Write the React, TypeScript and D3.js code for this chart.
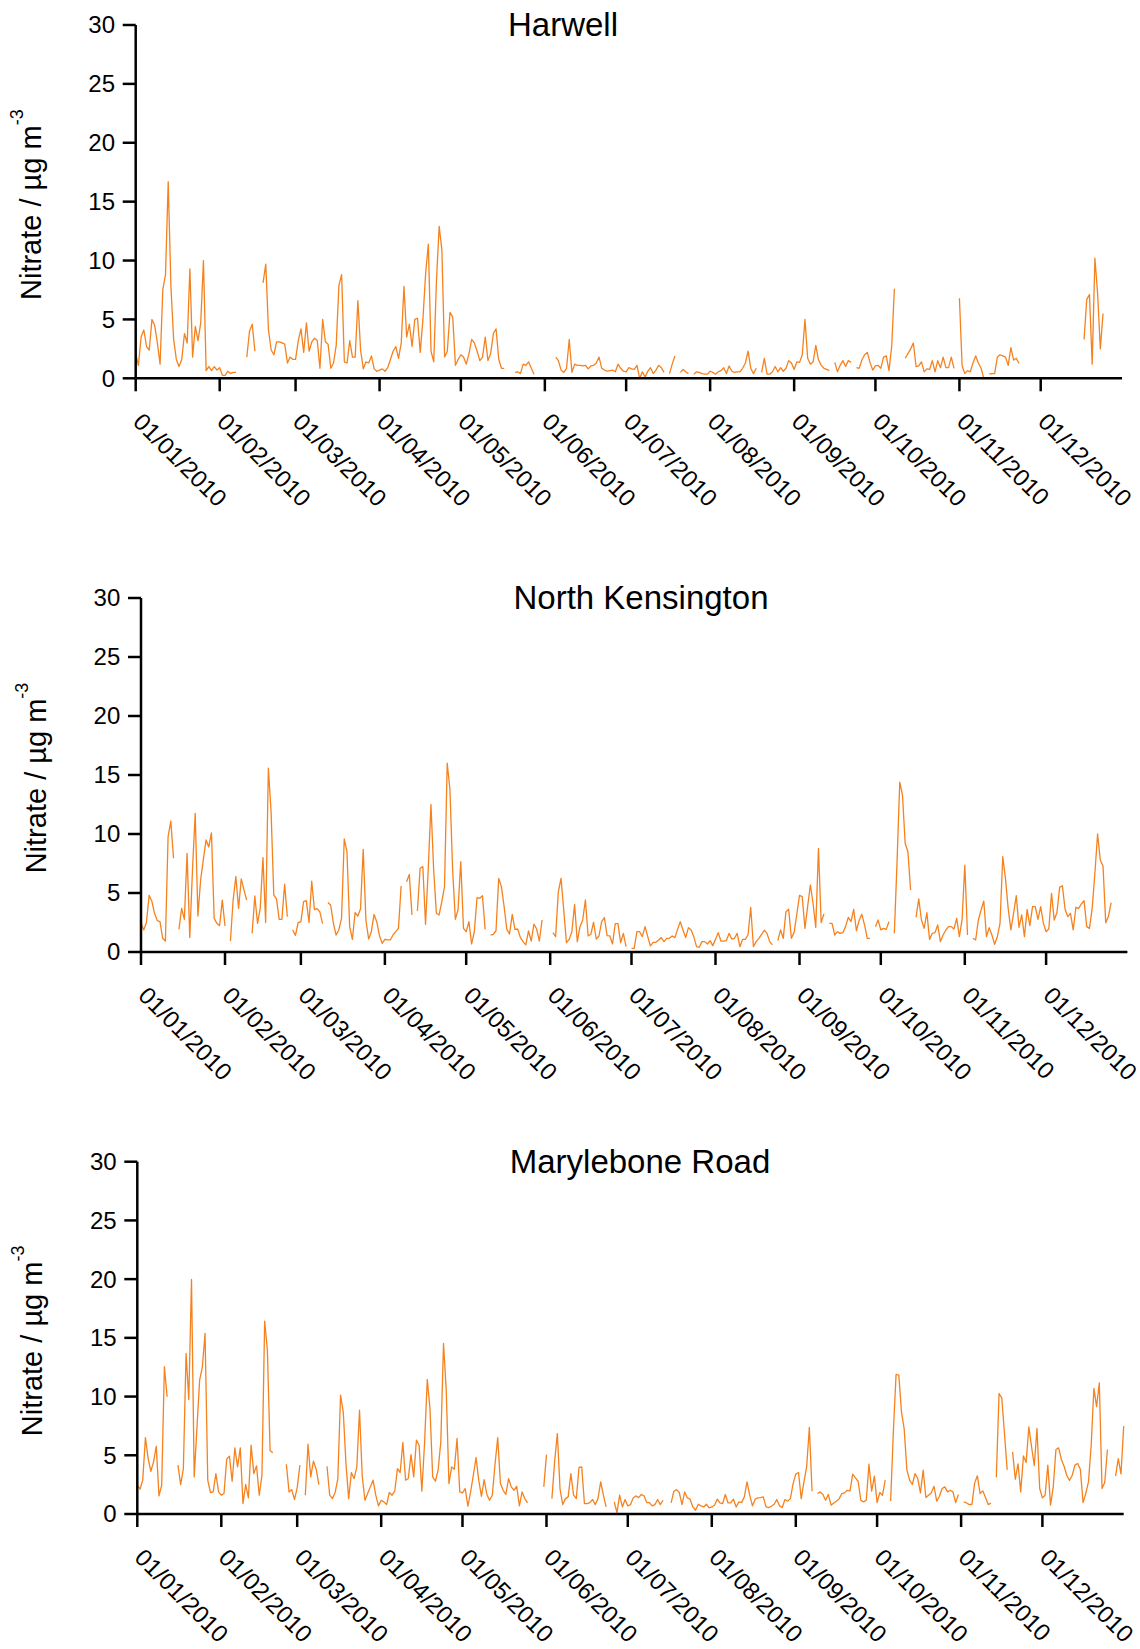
import React from "react";
import * as d3 from "d3";

// Daily nitrate concentrations (µg m-3) for 2010, one value per day from 1 Jan; null = no data.
const harwell: (number | null)[] = [
  2.1, 1.1, 3.5, 4.1, 2.7, 2.4, 5.0, 4.5, 3.0, 1.2,
  7.5, 8.8, 16.7, 7.8, 3.3, 1.6, 1.0, 1.6, 3.8, 3.0,
  9.3, 1.8, 4.4, 3.2, 4.7, 10.0, 0.65, 1.0, 0.65, 1.0,
  0.7, 0.9, 0.25, 0.25, 0.6, 0.4, 0.5, 0.5, null, null,
  null, 1.8, 4.0, 4.6, 2.3, null, null, 8.1, 9.7, 4.1,
  2.4, 2.0, 3.1, 3.1, 3.0, 2.9, 1.3, 1.8, 1.6, 1.6,
  3.2, 4.2, 2.2, 4.7, 2.3, 3.1, 3.4, 3.2, 0.85, 5.0,
  3.1, 2.9, 0.85, 1.3, 2.8, 7.9, 8.8, 1.4, 1.3, 3.2,
  1.8, 1.8, 6.6, 2.4, 0.8, 1.4, 1.3, 1.9, 0.8, 0.6,
  0.7, 0.8, 0.6, 0.9, 1.6, 2.3, 2.7, 1.7, 3.0, 7.8,
  3.5, 4.6, 2.7, 5.0, 5.1, 2.2, 5.0, 8.9, 11.4, 2.3,
  1.4, 8.3, 12.9, 10.9, 1.8, 2.3, 5.6, 5.2, 1.1, 1.6,
  2.0, 1.8, 1.2, 2.1, 3.3, 3.0, 2.3, 1.5, 1.8, 3.5,
  1.5, 2.1, 3.8, 4.2, 1.6, 0.85, 0.85, null, null, null,
  0.5, 0.55, 0.4, 1.2, 1.1, 1.4, 0.85, 0.35, null, null,
  null, null, null, null, null, 1.8, 1.5, 0.7, 0.5, 0.85,
  3.3, 0.5, 1.2, 1.1, 1.1, 1.05, 1.1, 0.8, 1.05, 1.1,
  1.3, 1.8, 0.85, 0.7, 0.6, 0.65, 0.7, 0.55, 1.2, 0.85,
  0.6, 0.55, 0.9, 0.8, 0.75, 1.1, 0.0, 0.55, 0.1, 0.6,
  0.9, 0.4, 0.7, 1.1, 0.9, 0.5, null, 0.4, 1.2, 1.9,
  null, 0.5, 0.75, 0.55, 0.4, null, 0.35, 0.55, 0.5, 0.4,
  0.35, 0.35, 0.6, 0.5, 0.35, 0.55, 0.65, 0.9, 0.4, 1.05,
  0.6, 0.5, 0.55, 0.55, 0.85, 1.3, 2.3, 0.85, 0.4, 0.85,
  null, 0.5, 1.7, 0.35, 0.35, 0.55, 1.0, 0.55, 0.9, 0.6,
  0.85, 1.5, 1.3, 0.75, 1.4, 1.35, 2.0, 5.0, 1.7, 1.2,
  1.4, 2.8, 1.55, 1.1, 0.85, 0.75, 0.65, null, 1.35, 0.55,
  1.1, 1.5, 1.0, 1.5, 1.35, null, 0.9, 0.85, 1.55, 2.0,
  2.2, 1.35, 0.7, 1.05, 1.1, 0.85, 1.8, 1.9, 0.65, 2.7,
  7.6, null, null, null, 1.7, 2.1, 2.5, 3.0, 1.0, 1.05,
  1.4, 0.55, 0.8, 0.75, 1.5, 0.55, 1.5, 0.9, 1.8, 0.9,
  0.9, 1.8, 0.85, null, 6.8, 1.05, 0.4, 0.65, 0.55, 1.3,
  1.9, 1.3, 0.85, 0.0, null, 0.35, 0.4, 0.4, 1.8, 2.0,
  1.9, 1.8, 1.1, 2.6, 1.55, 1.7, 1.25, null, null, null,
  null, null, null, null, null, null, null, null, null, null,
  null, null, null, null, null, null, null, null, null, null,
  3.3, 6.7, 7.1, 1.2, 10.2, 7.2, 2.5, 5.5, null, null,
  null, null, null, null, null,
];

const northKensington: (number | null)[] = [
  2.43, 1.87, 2.5, 4.8, 4.3, 3.28, 2.66, 2.57, 1.16, 0.93,
  9.78, 11.1, 7.94, null, 1.92, 3.7, 2.77, 8.36, 1.24, 6.95,
  11.75, 3.05, 6.1, 7.8, 9.5, 8.9, 10.1, 2.85, 2.43, 2.23,
  4.4, 2.2, null, 0.93, 4.4, 6.4, 3.7, 6.2, 5.26, 4.4,
  null, 1.58, 4.75, 2.43, 3.7, 8.0, 2.5, 15.57, 11.9, 4.83,
  4.5, 2.77, 2.77, 5.74, 3.0, null, 1.87, 1.41, 2.5, 2.55,
  4.27, 4.35, 2.5, 6.0, 3.6, 3.67, 3.4, 2.4, null, 4.2,
  3.96, 2.43, 1.44, 1.87, 2.85, 9.58, 8.5, 2.15, 1.07, 3.34,
  3.05, 3.65, 8.7, 2.7, 1.1, 1.72, 3.19, 2.57, 1.38, 0.74,
  1.07, 1.02, 1.02, 1.44, 1.72, 2.0, 5.6, null, 5.96, 6.58,
  3.14, null, 3.48, 7.1, 7.23, 2.35, 7.0, 12.5, 6.95, 3.28,
  3.14, 4.27, 5.54, 16.0, 13.8, 6.95, 2.77, 3.6, 7.66, 2.0,
  1.72, 2.57, 0.68, 1.72, 4.6, 4.55, 4.77, 1.92, null, 1.44,
  1.5, 1.8, 6.24, 5.54, 3.84, 1.92, 1.53, 3.19, 1.92, 1.95,
  1.22, 0.88, 0.6, 1.78, 0.93, 2.37, 1.95, 0.93, 2.71, null,
  null, null, 1.64, 1.3, 5.1, 6.24, 3.56, 0.79, 1.07, 1.72,
  4.04, 0.88, 2.15, 2.71, 4.41, 1.36, 1.5, 2.52, 1.1, 1.36,
  2.57, 2.91, 1.39, 1.36, 0.68, 2.4, 2.4, 0.79, 1.58, 0.45,
  null, 0.31, 0.31, 1.72, 1.72, 1.3, 2.15, 1.3, 0.51, 0.82,
  0.82, 1.02, 1.22, 0.88, 1.16, 1.16, 1.36, 1.22, 1.92, 2.57,
  1.87, 1.22, 2.06, 1.87, 1.3, 0.45, 0.4, 0.88, 0.88, 0.68,
  0.96, 0.54, 1.07, 1.64, 0.93, 0.93, 0.96, 1.58, 1.1, 1.16,
  1.58, 0.45, 1.07, 1.07, 1.44, 3.79, 0.45, 0.88, 1.16, 1.5,
  1.84, 1.58, 0.88, 0.6, null, 0.96, 1.87, 1.16, 3.42, 3.62,
  1.16, 1.64, 3.2, 4.8, 4.7, 2.0, 3.84, 5.68, 4.13, 2.09,
  8.79, 2.49, 3.22, null, 2.43, 2.43, 1.44, 1.72, 1.58, 1.64,
  2.15, 2.94, 2.57, 3.62, 1.8, 2.66, 3.19, 2.29, 1.16, 1.16,
  null, 2.15, 2.71, 1.87, 2.0, 1.92, 2.57, null, 1.58, 7.66,
  14.4, 13.3, 9.2, 8.5, 5.26, null, 2.94, 4.5, 2.71, 2.0,
  3.34, 1.07, 1.58, 1.64, 2.29, 0.88, 1.44, 1.87, 2.15, 2.15,
  1.95, 2.85, 1.3, 2.77, 7.37, 1.44, null, 1.16, 1.02, 2.71,
  3.56, 4.32, 1.3, 2.06, 1.44, 0.65, 1.3, 2.43, 8.08, 6.24,
  3.7, 1.87, 3.28, 4.77, 2.09, 3.14, 1.3, 3.62, 2.23, 3.84,
  3.84, 2.77, 3.84, 2.43, 1.72, 1.95, 4.97, 2.71, 3.34, 5.48,
  5.62, 3.62, 3.0, 3.28, 1.87, 3.79, 3.7, 4.07, 4.35, 2.15,
  2.0, 3.7, 6.67, 10.0, 7.8, 7.29, 2.49, 3.0, 4.18, null,
  null, null, null, null, null,
];

const maryleboneRoad: (number | null)[] = [
  2.45, 2.11, 2.88, 6.51, 4.72, 3.64, 4.44, 5.77, 1.54, 2.45,
  12.54, 9.98, null, null, null, 4.16, 2.5, 3.87, 13.67, 9.75,
  19.98, 3.16, 7.28, 11.4, 12.5, 15.38, 2.88, 1.83, 1.88, 3.44,
  1.88, 1.6, 1.74, 4.67, 4.92, 2.79, 5.63, 4.01, 5.63, 0.89,
  2.51, 1.37, 5.86, 3.44, 4.1, 1.6, 3.3, 16.43, 13.96, 5.38,
  5.23, null, null, null, null, 4.24, 1.88, 2.08, 1.23, 2.22,
  4.16, null, 1.6, 5.94, 3.16, 4.5, 3.81, 2.51, null, null,
  4.07, 1.6, 1.31, 1.83, 3.02, 10.12, 8.7, 4.3, 1.31, 3.53,
  3.02, 4.01, 8.84, 3.25, 1.17, 1.74, 2.31, 2.88, 1.6, 0.69,
  1.17, 1.03, 0.8, 1.83, 1.6, 1.94, 3.87, 3.53, 6.09, 2.88,
  3.02, 5.06, 3.16, 6.29, 5.86, 1.94, 6.0, 11.46, 8.98, 3.16,
  2.79, 3.73, 6.14, 14.52, 10.55, 2.59, 4.01, 3.81, 6.43, 1.88,
  1.8, 2.17, 0.66, 1.88, 3.3, 4.81, 2.88, 1.51, 2.93, 1.66,
  1.17, 1.6, 4.21, 6.51, 2.59, 2.02, 1.66, 3.02, 2.31, 2.02,
  2.36, 0.69, 1.88, 1.31, 0.94, null, null, null, null, null,
  2.31, 5.06, null, 1.31, 4.44, 6.85, 2.11, 0.8, 1.31, 1.46,
  3.44, 1.6, 1.31, 3.96, 4.01, 0.89, 0.89, 0.97, 1.23, 0.8,
  1.31, 2.73, 1.6, 0.6, null, null, 1.03, 0.12, 1.6, 0.6,
  1.23, 0.69, 0.8, 1.37, 1.54, 1.4, 1.66, 1.54, 0.97, 0.97,
  0.69, 0.8, 1.23, 0.8, 1.17, null, null, 0.94, 1.94, 2.08,
  1.83, 0.8, 1.88, 1.37, 1.26, 0.6, 0.32, 0.83, 0.69, 0.6,
  0.83, 0.52, 0.6, 0.75, 1.26, 0.94, 0.89, 1.66, 0.94, 0.94,
  1.26, 0.6, 1.03, 0.97, 1.46, 2.73, 1.6, 0.69, 1.26, 1.37,
  1.4, 1.46, 0.6, 0.55, 0.66, 0.83, 1.23, 0.69, 0.55, 1.23,
  1.09, 1.31, 2.59, 3.4, 3.53, 1.31, 2.73, 4.01, 7.37, 1.94,
  null, 1.74, 1.88, 1.66, 1.17, 1.66, 0.75, 0.94, 1.09, 1.31,
  1.74, 1.8, 2.02, 1.97, 3.39, 3.08, 2.79, 1.17, 1.03, 1.17,
  4.24, 1.94, 3.22, 0.97, 1.83, 1.6, 2.88, null, 1.11, 7.0,
  11.88, 11.83, 8.7, 7.22, 3.73, 2.88, 2.51, 3.44, 3.02, 1.8,
  3.73, 1.4, 1.6, 1.8, 2.36, 1.09, 1.51, 2.17, 2.31, 1.88,
  2.02, 1.88, 0.97, 1.66, null, 1.03, 0.94, 0.8, 0.83, 2.65,
  3.25, 1.74, 1.97, 1.4, 0.8, 0.92, null, 3.13, 10.26, 9.89,
  6.85, 3.76, null, 5.29, 2.96, 4.27, 1.88, 4.95, 4.38, 7.42,
  5.72, 4.13, 7.28, 2.17, 1.37, 1.6, 4.16, 0.75, 2.31, 5.49,
  5.63, 4.64, 4.07, 3.3, 2.85, 3.3, 4.16, 4.3, 3.81, 0.97,
  1.74, 2.73, 5.86, 10.69, 9.15, 11.17, 2.17, 2.68, 5.49, null,
  null, 3.22, 4.72, 3.41, 7.48,
];

const siteNames = ["Harwell", "North Kensington", "Marylebone Road"];
const siteSeries = [harwell, northKensington, maryleboneRoad];
const yTicks = [0, 5, 10, 15, 20, 25, 30];
const yDomain: [number, number] = [0, 30];
const startDate = new Date(Date.UTC(2010, 0, 1));
const endDate = new Date(Date.UTC(2010, 11, 31));
const monthTicks = d3.utcMonths(startDate, new Date(Date.UTC(2011, 0, 1)));

// Frame of each panel on the page
const panelFrames = [
  { left: 135.7, right: 1122, top: 25, bottom: 378.3, titleX: 563 },
  { left: 141, right: 1127.4, top: 598, bottom: 952, titleX: 641 },
  { left: 137.3, right: 1123.7, top: 1161.7, bottom: 1514, titleX: 640 },
];

const FONT = "'Liberation Sans', Arial, Helvetica, sans-serif";
const LINE_COLOR = "#f5821f";
const fmt = d3.utcFormat("%d/%m/%Y");

type Frame = (typeof panelFrames)[number];

function Panel({ name, values, frame }: { name: string; values: (number | null)[]; frame: Frame }) {
  const x = d3.scaleUtc().domain([startDate, endDate]).range([frame.left, frame.right]);
  const y = d3.scaleLinear().domain(yDomain).range([frame.bottom, frame.top]);
  const points = values.map((v, i) => ({ date: d3.utcDay.offset(startDate, i), v }));
  const line = d3
    .line<{ date: Date; v: number | null }>()
    .defined((d) => d.v != null)
    .x((d) => x(d.date))
    .y((d) => y(d.v as number));
  const tickLen = 13;
  const midY = (frame.top + frame.bottom) / 2;

  return (
    <g>
      <path d={line(points) || ""} fill="none" stroke={LINE_COLOR} strokeWidth={1.3} strokeLinejoin="round" />
      {/* axes */}
      <line x1={frame.left} x2={frame.right} y1={frame.bottom} y2={frame.bottom} stroke="#000" strokeWidth={2.5} />
      <line x1={frame.left} x2={frame.left} y1={frame.bottom} y2={frame.top} stroke="#000" strokeWidth={2.5} />
      {yTicks.map((t) => (
        <g key={"y" + t}>
          <line x1={frame.left - tickLen} x2={frame.left} y1={y(t)} y2={y(t)} stroke="#000" strokeWidth={2.5} />
          <text x={frame.left - 20.7} y={y(t)} dy="0.35em" textAnchor="end" fontSize={24} fontFamily={FONT} fill="#000">
            {t}
          </text>
        </g>
      ))}
      {monthTicks.map((m) => (
        <g key={"x" + m.getTime()}>
          <line x1={x(m)} x2={x(m)} y1={frame.bottom} y2={frame.bottom + tickLen} stroke="#000" strokeWidth={2.5} />
          <text
            transform={`translate(${x(m) - 4},${frame.bottom + 45}) rotate(45)`}
            fontSize={24}
            fontFamily={FONT}
            fill="#000"
          >
            {fmt(m)}
          </text>
        </g>
      ))}
      <text x={frame.titleX} y={frame.top + 11} textAnchor="middle" fontSize={33} fontFamily={FONT} fill="#000">
        {name}
      </text>
      <text
        transform={`translate(${frame.left - 95},${midY + 3}) rotate(-90)`}
        textAnchor="middle"
        fontSize={29}
        fontFamily={FONT}
        fill="#000"
      >
        Nitrate / µg m
        <tspan dy={-18} fontSize={18}>-3</tspan>
      </text>
    </g>
  );
}

export default function App() {
  return (
    <svg
      width={1140}
      height={1649}
      viewBox="0 0 1140 1649"
      style={{ position: "absolute", left: 0, top: 0, background: "#fff" }}
    >
      <rect width={1140} height={1649} fill="#fff" />
      {siteNames.map((name, i) => (
        <Panel key={name} name={name} values={siteSeries[i]} frame={panelFrames[i]} />
      ))}
    </svg>
  );
}
